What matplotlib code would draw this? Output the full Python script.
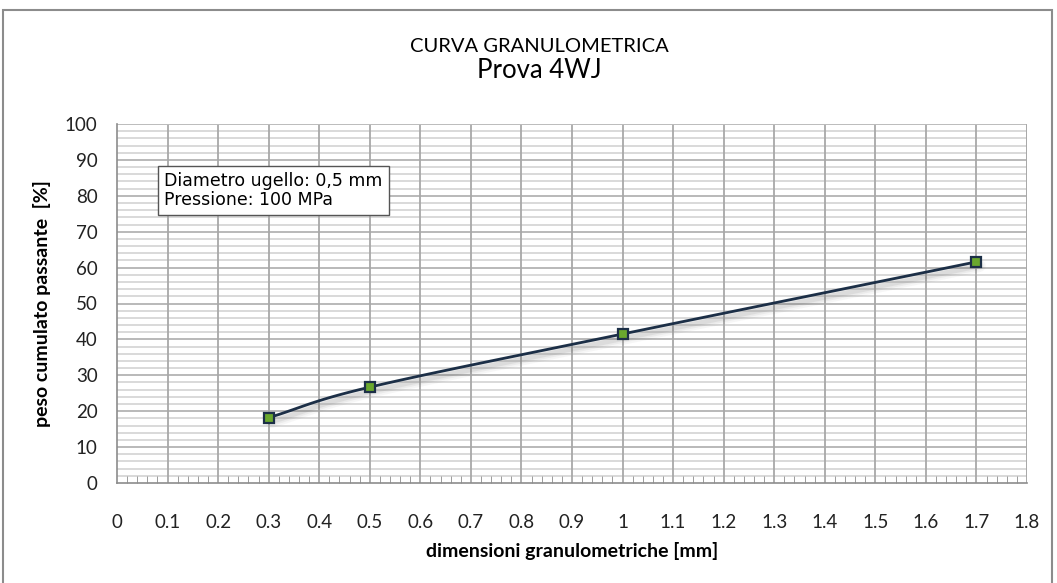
import numpy as np
import matplotlib.pyplot as plt
import matplotlib.transforms as mtransforms
from matplotlib.patches import Rectangle

# data
dim_mm = [0.3, 0.5, 1.0, 1.7]
passante = [18.2, 26.7, 41.5, 61.6]

x_ticks = np.round(np.arange(0, 1.81, 0.1), 1)
x_labels = ["0"] + [f"{v:g}" for v in x_ticks[1:]]
y_ticks = np.arange(0, 101, 10)

title_1 = "CURVA GRANULOMETRICA"
title_2 = "Prova 4WJ"
note = "Diametro ugello: 0,5 mm\nPressione: 100 MPa"


def smooth(xs, ys, n=40):
    # Catmull-Rom style curve through the points (like an Excel smoothed line)
    xs = np.asarray(xs, float)
    ys = np.asarray(ys, float)
    px = np.concatenate([[2 * xs[0] - xs[1]], xs, [2 * xs[-1] - xs[-2]]])
    py = np.concatenate([[2 * ys[0] - ys[1]], ys, [2 * ys[-1] - ys[-2]]])
    out_x, out_y = [], []
    for i in range(1, len(px) - 2):
        t = np.linspace(0, 1, n)
        for arr, res in ((px, out_x), (py, out_y)):
            p0, p1, p2, p3 = arr[i - 1], arr[i], arr[i + 1], arr[i + 2]
            b1 = p1 + (p2 - p0) / 6
            b2 = p2 - (p3 - p1) / 6
            res.extend((1 - t) ** 3 * p1 + 3 * (1 - t) ** 2 * t * b1
                       + 3 * (1 - t) * t ** 2 * b2 + t ** 3 * p2)
    return np.array(out_x), np.array(out_y)


fig = plt.figure(figsize=(10.57, 5.83), dpi=100)
fig.patch.set_facecolor("white")
fig.patches.append(Rectangle((3 / 1057, -0.05), 1049 / 1057, 1 - 10 / 583 + 0.05,
                             transform=fig.transFigure, fill=False,
                             edgecolor="#8c8c8c", linewidth=1.5))

ax = fig.add_axes([117 / 1057, 1 - 483 / 583, 910 / 1057, 359 / 583])
ax.set_xlim(0, 1.8)
ax.set_ylim(0, 100)

# grid
for v in np.arange(2, 100, 2):
    ax.axhline(v, color="#cfcfcf", linewidth=1.1, zorder=1)
for v in y_ticks[1:]:
    ax.axhline(v, color="#b4b4b4", linewidth=1.2, zorder=1)
for v in x_ticks[1:]:
    ax.axvline(v, color="#a8a8a8", linewidth=1.3, zorder=1)

for s in ["top", "right"]:
    ax.spines[s].set_visible(False)
for s in ["left", "bottom"]:
    ax.spines[s].set_color("#8c8c8c")
    ax.spines[s].set_linewidth(1.2)
ax.axhline(100, color="#bdbdbd", linewidth=1.3, zorder=1)
ax.axvline(1.8, color="#a8a8a8", linewidth=1.8, zorder=1)

ax.set_xticks(x_ticks)
ax.set_xticklabels(x_labels)
ax.set_xticks(np.arange(0, 1.81, 0.02), minor=True)
ax.set_yticks(y_ticks)
ax.tick_params(axis="x", which="major", length=0, pad=22, labelsize=13.5, colors="#222222")
ax.tick_params(axis="x", which="minor", direction="in", length=5, color="#8c8c8c")
ax.tick_params(axis="y", length=0, pad=14, labelsize=13.5, colors="#222222")
for lab in ax.get_xticklabels() + ax.get_yticklabels():
    lab.set_family("Lato")

ax.set_xlabel("dimensioni granulometriche [mm]", fontsize=14, fontweight="bold",
              family="Lato", labelpad=8)
ax.set_ylabel("peso cumulato passante  [%]", fontsize=14, fontweight="bold",
              family="Lato", labelpad=10)

# curve with soft shadow
sx, sy = smooth(dim_mm, passante)
for w, a in [(9, 0.05), (6, 0.07), (3.5, 0.1)]:
    tr = mtransforms.offset_copy(ax.transData, fig=fig, x=3, y=-4, units="dots")
    ax.plot(sx, sy, color="#606060", linewidth=w, alpha=a, transform=tr,
            solid_capstyle="round", zorder=2)
ax.plot(sx, sy, color="#1c2f47", linewidth=2.0, zorder=3)
ax.plot(dim_mm, passante, linestyle="none", marker="s", markersize=7,
        markerfacecolor="#6aa82e", markeredgecolor="#1c2f47", markeredgewidth=1.6,
        zorder=4)

ax.text(0.052, 0.865, note, transform=ax.transAxes, fontsize=12.5,
        family="DejaVu Sans", va="top", ha="left", linespacing=1.05,
        bbox=dict(boxstyle="square,pad=0.35", facecolor="white",
                  edgecolor="#555555", linewidth=1.0), zorder=5)

fig.text(0.51, 1 - 46 / 583, title_1, ha="center", va="center", fontsize=14.5,
         family="Lato")
fig.text(0.51, 1 - 71 / 583, title_2, ha="center", va="center", fontsize=18.5,
         family="Lato")

fig.savefig("out.png", dpi=100)
